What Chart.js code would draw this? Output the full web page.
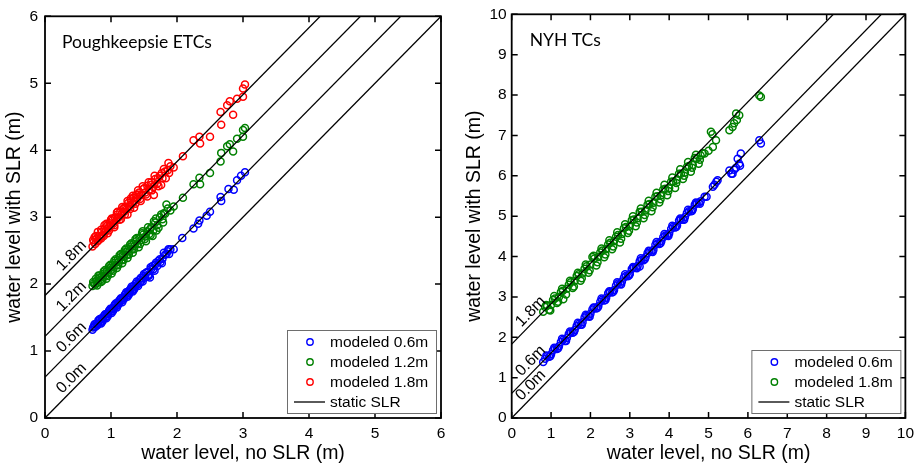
<!DOCTYPE html>
<html>
<head>
<meta charset="utf-8">
<script src="https://cdn.jsdelivr.net/npm/chart.js@4.4.1/dist/chart.umd.min.js"></script>
<style>
  html, body { margin: 0; padding: 0; background: #fff; }
  .wrap { display: flex; width: 920px; height: 465px; }
</style>
</head>
<body>
<div class="wrap">
  <canvas id="left" width="460" height="465"></canvas>
  <canvas id="right" width="460" height="465"></canvas>
</div>
<script>
// Poughkeepsie ETCs: [water level no SLR, water level with SLR] (m)
const pkBlue = [
  [0.72,1.32],[0.74,1.37],[0.76,1.36],[0.78,1.41],[0.80,1.40],[0.82,1.45],[0.84,1.43],[0.86,1.49],[0.88,1.47],[0.90,1.53],
  [0.92,1.51],[0.94,1.56],[0.96,1.55],[0.98,1.61],[1.00,1.59],[1.02,1.64],[1.04,1.63],[1.06,1.69],[1.08,1.67],[1.10,1.73],
  [1.12,1.71],[1.14,1.77],[1.16,1.75],[1.18,1.80],[1.20,1.79],[1.22,1.85],[1.24,1.83],[1.26,1.89],[1.28,1.87],[1.30,1.93],
  [1.32,1.91],[1.34,1.97],[1.36,1.95],[1.38,2.01],[1.40,1.99],[1.43,2.06],[1.46,2.05],[1.49,2.12],[1.52,2.10],[1.55,2.18],
  [1.58,2.14],[1.61,2.23],[1.64,2.22],[1.67,2.29],[1.70,2.27],[1.74,2.37],[1.78,2.38],[1.82,2.44],[1.86,2.49],[1.90,2.52],
  [0.75,1.40],[0.79,1.38],[0.83,1.48],[0.87,1.44],[0.91,1.55],[0.95,1.52],[0.99,1.63],[1.03,1.60],[1.07,1.71],[1.11,1.69],
  [1.15,1.79],[1.19,1.77],[1.23,1.88],[1.27,1.84],[1.31,1.96],[1.35,1.92],[1.39,2.04],[1.44,2.02],[1.50,2.15],[1.56,2.13],
  [1.60,2.25],[1.59,2.10],[1.68,2.32],[1.75,2.33],[1.80,2.47],[1.87,2.52],[1.88,2.45],
  [0.73,1.35],[0.81,1.46],[0.85,1.41],[0.89,1.52],[0.93,1.49],[0.97,1.60],[1.01,1.57],[1.05,1.68],[1.09,1.65],[1.13,1.76],
  [1.17,1.73],[1.21,1.84],[1.25,1.81],[1.29,1.92],[1.33,1.89],[1.37,2.00],[1.41,1.97],[1.45,2.09],[1.48,2.04],[1.53,2.17],
  [1.57,2.12],[1.63,2.27],[1.66,2.20],[1.72,2.35],[1.77,2.31],[1.84,2.45],
  [1.95,2.52],[2.08,2.69],[2.25,2.83],[2.34,2.95],[2.32,2.90],[2.45,3.02],[2.50,3.08],[2.66,3.30],[2.67,3.24],[2.78,3.42],
  [2.86,3.41],[2.91,3.55],[2.97,3.62],[3.03,3.67]
];
const pkGreen = [
  [0.72,1.97],[0.74,2.01],[0.76,1.99],[0.78,2.05],[0.80,2.02],[0.82,2.09],[0.84,2.06],[0.86,2.12],[0.88,2.10],[0.90,2.16],
  [0.92,2.13],[0.94,2.20],[0.96,2.17],[0.98,2.24],[1.00,2.21],[1.02,2.28],[1.04,2.25],[1.06,2.32],[1.08,2.28],[1.10,2.36],
  [1.12,2.33],[1.14,2.40],[1.16,2.36],[1.18,2.44],[1.20,2.41],[1.22,2.48],[1.24,2.44],[1.26,2.52],[1.28,2.49],[1.30,2.56],
  [1.32,2.52],[1.34,2.60],[1.36,2.57],[1.38,2.64],[1.40,2.60],[1.43,2.69],[1.46,2.66],[1.49,2.74],[1.52,2.71],[1.55,2.79],
  [1.58,2.75],[1.61,2.85],[1.64,2.80],[1.67,2.92],[1.70,2.88],[1.74,3.00],[1.78,2.97],[1.82,3.05],[1.86,3.13],[1.90,3.10],
  [0.77,2.08],[0.81,2.13],[0.85,2.03],[0.89,2.19],[0.93,2.08],[0.97,2.27],[1.01,2.16],[1.05,2.35],[1.09,2.24],[1.13,2.43],
  [1.17,2.31],[1.21,2.51],[1.25,2.39],[1.29,2.59],[1.33,2.47],[1.37,2.67],[1.42,2.55],[1.47,2.76],[1.53,2.64],[1.59,2.82],
  [1.63,2.72],[1.68,2.98],[1.72,2.84],[1.80,3.06],[1.84,3.19],[1.95,3.16],
  [0.73,2.03],[0.79,1.98],[0.83,2.13],[0.87,2.05],[0.91,2.21],[0.95,2.12],[0.99,2.29],[1.03,2.20],[1.07,2.37],[1.11,2.28],
  [1.15,2.45],[1.19,2.36],[1.23,2.53],[1.27,2.44],[1.31,2.61],[1.35,2.52],[1.39,2.69],[1.44,2.60],[1.48,2.79],[1.51,2.67],
  [1.56,2.85],[1.60,2.73],[1.65,2.94],[1.69,2.80],[1.76,3.04],[1.79,2.92],
  [2.09,3.29],[2.25,3.49],[2.34,3.59],[2.35,3.49],[2.50,3.66],[2.66,3.83],[2.67,3.96],[2.76,4.06],[2.80,4.09],[2.85,3.98],
  [2.91,4.17],[3.00,4.20],[3.00,4.30],[3.03,4.33]
];
const pkRed = [
  [0.72,2.56],[0.74,2.63],[0.76,2.60],[0.78,2.68],[0.80,2.64],[0.82,2.72],[0.84,2.70],[0.86,2.78],[0.88,2.74],[0.90,2.83],
  [0.92,2.79],[0.94,2.87],[0.96,2.83],[0.98,2.91],[1.00,2.87],[1.02,2.95],[1.04,2.91],[1.06,3.00],[1.08,2.95],[1.10,3.04],
  [1.12,3.00],[1.14,3.08],[1.16,3.04],[1.18,3.12],[1.20,3.08],[1.22,3.16],[1.24,3.12],[1.26,3.21],[1.28,3.16],[1.30,3.25],
  [1.32,3.20],[1.34,3.29],[1.36,3.24],[1.38,3.33],[1.40,3.28],[1.43,3.37],[1.46,3.33],[1.49,3.42],[1.52,3.37],[1.55,3.47],
  [1.58,3.41],[1.61,3.52],[1.64,3.45],[1.67,3.57],[1.70,3.50],[1.74,3.62],[1.78,3.58],[1.82,3.68],[1.86,3.70],[1.90,3.76],
  [0.75,2.70],[0.80,2.78],[0.85,2.68],[0.90,2.88],[0.95,2.76],[1.00,2.96],[1.05,2.85],[1.10,3.08],[1.15,2.97],[1.20,3.14],
  [1.25,3.04],[1.30,3.28],[1.35,3.14],[1.40,3.34],[1.45,3.24],[1.50,3.43],[1.55,3.31],[1.60,3.48],[1.65,3.33],[1.71,3.58],
  [1.76,3.48],[1.80,3.72],[1.88,3.66],[1.87,3.81],[1.95,3.74],
  [0.73,2.66],[0.77,2.72],[0.81,2.66],[0.85,2.81],[0.89,2.72],[0.93,2.90],[0.97,2.80],[1.01,2.98],[1.05,2.88],[1.09,3.07],
  [1.13,2.96],[1.17,3.15],[1.21,3.04],[1.25,3.24],[1.29,3.12],[1.33,3.32],[1.37,3.20],[1.41,3.40],[1.44,3.27],[1.48,3.46],
  [1.53,3.34],[1.57,3.52],[1.62,3.40],[1.66,3.62],[1.72,3.46],[1.77,3.66],[1.83,3.58],
  [2.09,3.91],[2.25,4.15],[2.34,4.20],[2.35,4.10],[2.50,4.20],[2.66,4.57],[2.67,4.38],[2.76,4.67],[2.80,4.73],[2.85,4.53],
  [2.91,4.77],[3.00,4.80],[3.00,4.92],[3.03,4.98]
];

// NYH TCs
const nyBlue = [
  [0.80,1.39],[0.90,1.53],[1.00,1.58],[1.10,1.72],[1.20,1.78],[1.30,1.93],[1.40,1.98],[1.50,2.12],[1.60,2.18],[1.70,2.33],
  [1.80,2.37],[1.90,2.53],[2.00,2.58],[2.10,2.73],[2.20,2.77],[2.30,2.93],[2.40,2.98],[2.50,3.12],[2.60,3.17],[2.70,3.33],
  [2.80,3.38],[2.90,3.52],[3.00,3.57],[3.10,3.73],[3.20,3.77],[3.30,3.92],[3.40,3.98],[3.50,4.13],[3.60,4.17],[3.70,4.32],
  [3.80,4.38],[3.90,4.52],[4.00,4.57],[4.10,4.73],[4.20,4.77],[4.30,4.92],[4.40,4.98],[4.50,5.12],[4.60,5.17],[4.70,5.32],
  [4.80,5.37],[4.90,5.48],
  [0.85,1.47],[0.95,1.52],[1.05,1.68],[1.15,1.71],[1.25,1.88],[1.35,1.91],[1.45,2.08],[1.55,2.11],[1.65,2.28],[1.75,2.31],
  [1.85,2.49],[1.95,2.52],[2.05,2.69],[2.15,2.71],[2.25,2.88],[2.35,2.91],[2.45,3.09],[2.55,3.11],[2.65,3.28],[2.75,3.32],
  [2.85,3.48],[2.95,3.51],[3.05,3.69],[3.15,3.72],[3.25,3.88],[3.35,3.91],[3.45,4.08],[3.55,4.12],[3.65,4.29],[3.75,4.31],
  [3.85,4.48],[3.95,4.52],[4.05,4.68],[4.15,4.72],[4.25,4.89],[4.35,4.92],[4.45,5.08],[4.55,5.12],[4.65,5.28],[4.75,5.33],
  [0.88,1.55],[0.98,1.53],[1.08,1.74],[1.18,1.73],[1.28,1.96],[1.38,1.91],[1.48,2.14],[1.58,2.13],[1.68,2.36],[1.78,2.31],
  [1.88,2.56],[1.98,2.51],[2.08,2.74],[2.18,2.73],[2.28,2.96],[2.38,2.92],[2.48,3.14],[2.58,3.13],[2.68,3.36],[2.78,3.31],
  [2.88,3.56],[2.98,3.53],[3.08,3.74],[3.18,3.71],[3.28,3.96],[3.38,3.93],[3.48,4.14],[3.58,4.11],[3.68,4.36],[3.78,4.33],
  [3.88,4.56],[3.98,4.51],[4.08,4.76],[4.18,4.73],[4.28,4.94],[4.38,4.91],[4.48,5.16],[4.58,5.13],[4.68,5.34],[4.78,5.31],
  [3.25,3.75],[4.95,5.48],[5.11,5.73],[5.15,5.78],[5.20,5.85],[5.23,5.89],[5.53,6.13],[5.58,6.05],[5.61,6.05],[5.65,6.15],
  [5.70,6.20],[5.74,6.42],[5.78,6.30],[5.80,6.25],[5.82,6.55],[6.29,6.88],[6.33,6.80]
];
const nyGreen = [
  [0.80,2.63],[0.90,2.78],[1.00,2.80],[1.10,2.96],[1.20,3.00],[1.30,3.15],[1.40,3.20],[1.50,3.36],[1.60,3.40],[1.70,3.56],
  [1.80,3.58],[1.90,3.76],[2.00,3.80],[2.10,3.95],[2.20,3.99],[2.30,4.15],[2.40,4.18],[2.50,4.34],[2.60,4.38],[2.70,4.53],
  [2.80,4.56],[2.90,4.73],[3.00,4.76],[3.10,4.92],[3.20,4.95],[3.30,5.11],[3.40,5.14],[3.50,5.30],[3.60,5.33],[3.70,5.49],
  [3.80,5.52],[3.90,5.68],[4.00,5.70],[4.10,5.86],[4.20,5.90],[4.30,6.05],[4.40,6.08],[4.50,6.24],[4.60,6.27],[4.70,6.42],
  [4.80,6.50],
  [0.85,2.75],[0.95,2.68],[1.05,2.92],[1.15,2.85],[1.25,3.12],[1.31,2.94],[1.45,3.30],[1.55,3.22],[1.65,3.52],[1.75,3.40],
  [1.85,3.70],[1.95,3.60],[2.05,3.99],[2.15,3.78],[2.25,4.10],[2.35,3.98],[2.45,4.30],[2.55,4.18],[2.65,4.49],[2.75,4.35],
  [2.85,4.70],[2.95,4.58],[3.05,4.90],[3.15,4.75],[3.25,5.10],[3.35,4.95],[3.45,5.28],[3.55,5.12],[3.65,5.48],[3.75,5.34],
  [3.85,5.66],[3.95,5.52],[4.05,5.85],[4.15,5.70],[4.25,6.05],[4.35,5.92],[4.45,6.22],[4.55,6.10],[4.65,6.44],[4.75,6.30],
  [4.85,6.56],[4.90,6.55],
  [0.88,2.80],[0.98,2.66],[1.08,3.02],[1.18,2.88],[1.28,3.20],[1.38,3.06],[1.48,3.40],[1.58,3.26],[1.68,3.60],[1.78,3.46],
  [1.88,3.80],[1.98,3.66],[2.08,4.02],[2.18,3.86],[2.28,4.20],[2.38,4.05],[2.48,4.40],[2.58,4.25],[2.68,4.60],[2.78,4.44],
  [2.88,4.80],[2.98,4.64],[3.08,5.00],[3.18,4.84],[3.28,5.19],[3.38,5.03],[3.48,5.38],[3.58,5.22],[3.68,5.58],[3.78,5.42],
  [3.88,5.78],[3.98,5.62],[4.08,5.96],[4.18,5.82],[4.28,6.16],[4.38,6.00],[4.48,6.34],[4.58,6.20],[4.68,6.52],[4.78,6.40],
  [5.00,6.62],[5.06,7.09],[5.10,7.03],[5.11,6.71],[5.19,6.88],[5.53,7.13],[5.61,7.21],[5.65,7.30],[5.72,7.38],[5.70,7.54],
  [5.78,7.50],[6.29,7.99],[6.33,7.95]
];

// static SLR offsets (m) and their labels
const pkLevels = [0, 0.61, 1.22, 1.83];
const pkLevelNames = ['0.0m', '0.6m', '1.2m', '1.8m'];
const nyLevels = [0, 0.61, 1.83];
const nyLevelNames = ['0.0m', '0.6m', '1.8m'];

const pkTicks = [0, 1, 2, 3, 4, 5, 6];
const nyTicks = [0, 1, 2, 3, 4, 5, 6, 7, 8, 9, 10];

const BLUE = '#0000ff', GREEN = '#008000', RED = '#ff0000';
const SANS = '"Liberation Sans", Arial, sans-serif';

// frame, inward ticks, level labels, panel title and legend box
const decor = {
  id: 'decor',
  afterDatasetsDraw(chart, args, opts) {
    const { ctx, chartArea: a, scales: { x, y } } = chart;
    ctx.save();

    // labels along the static SLR lines
    ctx.fillStyle = '#000';
    ctx.font = '16px ' + SANS;
    ctx.textAlign = 'center';
    ctx.textBaseline = 'bottom';
    opts.levels.forEach((c, i) => {
      const x0 = x.getPixelForValue(opts.labelAt), y0 = y.getPixelForValue(opts.labelAt + c);
      const x1 = x.getPixelForValue(opts.labelAt + 1), y1 = y.getPixelForValue(opts.labelAt + 1 + c);
      ctx.save();
      ctx.translate(x0, y0);
      ctx.rotate(Math.atan2(y1 - y0, x1 - x0));
      ctx.fillText(opts.levelNames[i], 0, -1);
      ctx.restore();
    });

    // inward tick marks on all four sides
    ctx.strokeStyle = '#000';
    ctx.lineWidth = 1.5;
    ctx.beginPath();
    x.ticks.forEach(t => {
      const p = x.getPixelForValue(t.value);
      ctx.moveTo(p, a.bottom); ctx.lineTo(p, a.bottom - 6);
      ctx.moveTo(p, a.top); ctx.lineTo(p, a.top + 6);
    });
    y.ticks.forEach(t => {
      const p = y.getPixelForValue(t.value);
      ctx.moveTo(a.left, p); ctx.lineTo(a.left + 6, p);
      ctx.moveTo(a.right, p); ctx.lineTo(a.right - 6, p);
    });
    ctx.stroke();
    ctx.lineWidth = 1.8;
    ctx.strokeRect(a.left, a.top, a.right - a.left, a.bottom - a.top);

    // panel title
    ctx.font = '17.5px Lato, "Open Sans", sans-serif';
    ctx.textAlign = 'left';
    ctx.textBaseline = 'middle';
    ctx.fillText(opts.title, a.left + opts.titleDx, a.top + 26);

    // legend box in the lower right corner
    const rows = opts.legend.length;
    const bw = 149, bh = rows * 20 + 3;
    const bx = a.right - 5 - bw, by = a.bottom - 5 - bh;
    ctx.fillStyle = '#fff';
    ctx.fillRect(bx, by, bw, bh);
    ctx.strokeStyle = '#6e6e6e';
    ctx.lineWidth = 1;
    ctx.strokeRect(bx + 0.5, by + 0.5, bw, bh);
    ctx.font = '15.5px ' + SANS;
    opts.legend.forEach((item, i) => {
      const cy = by + 12 + i * 20;
      if (item.color) {
        ctx.strokeStyle = item.color;
        ctx.lineWidth = 1.4;
        ctx.beginPath();
        ctx.arc(bx + 23, cy, 3.2, 0, Math.PI * 2);
        ctx.stroke();
      } else {
        ctx.strokeStyle = '#000';
        ctx.lineWidth = 1.3;
        ctx.beginPath();
        ctx.moveTo(bx + 7, cy); ctx.lineTo(bx + 38, cy);
        ctx.stroke();
      }
      ctx.fillStyle = '#000';
      ctx.fillText(item.text, bx + 43, cy + 1);
    });
    ctx.restore();
  }
};

const pts = arr => arr.map(p => ({ x: p[0], y: p[1] }));

function scatterSet(label, arr, color) {
  return {
    label, data: pts(arr), order: 2,
    borderColor: color, backgroundColor: 'rgba(0,0,0,0)',
    pointStyle: 'circle', pointRadius: 3.5, pointBorderWidth: 1.5, showLine: false
  };
}

function slrSets(levels, max) {
  return levels.map(c => ({
    label: 'static SLR', data: [{ x: 0, y: c }, { x: max - c, y: max }], order: 1,
    showLine: true, borderColor: '#000', borderWidth: 1.3, pointRadius: 0
  }));
}

function axis(ticksArr, title, pad, fit) {
  return {
    type: 'linear',
    min: ticksArr[0],
    max: ticksArr[ticksArr.length - 1],
    afterBuildTicks: s => { s.ticks = ticksArr.map(v => ({ value: v })); },
    afterFit: fit,
    grid: { display: false, drawTicks: false },
    border: { display: false },
    ticks: { color: '#000', font: { family: SANS, size: 15.5 }, padding: pad, maxRotation: 0, autoSkip: false },
    title: { display: true, text: title, color: '#000', font: { family: SANS, size: 19.5 }, padding: { top: 3, bottom: 0 } }
  };
}

function makeChart(id, datasets, ticksArr, yWidth, rightPad, decorOpts) {
  return new Chart(document.getElementById(id), {
    type: 'scatter',
    data: { datasets },
    options: {
      responsive: false,
      animation: false,
      layout: { padding: { left: 0, right: rightPad, top: 14, bottom: 0 } },
      scales: {
        x: axis(ticksArr, 'water level, no SLR (m)', 6, s => { s.height = 47; }),
        y: axis(ticksArr, 'water level with SLR (m)', yWidth > 48 ? 5 : 7, s => { s.width = yWidth; })
      },
      plugins: { legend: { display: false }, tooltip: { enabled: false }, decor: decorOpts }
    },
    plugins: [decor]
  });
}

makeChart('left', [
  ...slrSets(pkLevels, 6),
  scatterSet('modeled 0.6m', pkBlue, BLUE),
  scatterSet('modeled 1.2m', pkGreen, GREEN),
  scatterSet('modeled 1.8m', pkRed, RED)
], pkTicks, 45, 19, {
  title: 'Poughkeepsie ETCs', titleDx: 17,
  levels: pkLevels, levelNames: pkLevelNames, labelAt: 0.5,
  legend: [
    { text: 'modeled 0.6m', color: BLUE },
    { text: 'modeled 1.2m', color: GREEN },
    { text: 'modeled 1.8m', color: RED },
    { text: 'static SLR' }
  ]
});

makeChart('right', [
  ...slrSets(nyLevels, 10),
  scatterSet('modeled 0.6m', nyBlue, BLUE),
  scatterSet('modeled 1.8m', nyGreen, GREEN)
], nyTicks, 51.7, 13.3, {
  title: 'NYH TCs', titleDx: 18,
  levels: nyLevels, levelNames: nyLevelNames, labelAt: 0.65,
  legend: [
    { text: 'modeled 0.6m', color: BLUE },
    { text: 'modeled 1.8m', color: GREEN },
    { text: 'static SLR' }
  ]
});
</script>
</body>
</html>
